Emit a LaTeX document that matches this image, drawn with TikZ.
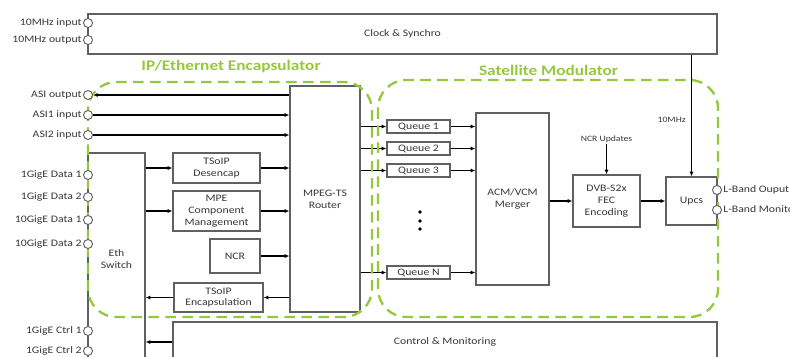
\documentclass[tikz,border=0pt]{standalone}
\usepackage{fontspec}
\setmainfont[FakeStretch=1.18]{Carlito}
\usetikzlibrary{positioning}
\usetikzlibrary{arrows.meta}
\definecolor{boxgray}{RGB}{96,96,96}
\definecolor{txtgray}{RGB}{55,55,55}
\definecolor{zonegreen}{RGB}{150,200,60}
\newcommand{\boxfont}{\fontsize{8.5}{10}\selectfont}
\newcommand{\smallfont}{\fontsize{7}{8}\selectfont}
\newcommand{\zonefont}{\fontsize{12.5}{14}\selectfont\bfseries}
\pgfdeclarelayer{top}
\pgfsetlayers{main,top}

\begin{document}
\begin{tikzpicture}[x=0.03cm, y=-0.03cm,
    blk/.style={draw=boxgray, line width=1.1pt, text=txtgray, font=\boxfont, align=center, inner sep=0pt},
    port/.style={circle, draw=boxgray, fill=white, line width=0.8pt, minimum size=0.27cm, inner sep=0pt},
    portlbl/.style={text=txtgray, font=\boxfont, inner sep=1pt},
    arr/.style={-{Latex[length=4pt,width=3.5pt]}, line width=1.1pt},
    zone/.style={draw=zonegreen, line width=2pt, dash pattern=on 9pt off 5.5pt, rounded corners=0.85cm},
    zonettl/.style={text=zonegreen, font=\zonefont}]
  \useasboundingbox (0,0) rectangle (790,356);

  % main blocks
  \node[blk, minimum width=18.87cm, minimum height=1.2cm] (clock) at (402.5,34) {Clock \& Synchro};
  \node[blk, minimum width=2.1cm, minimum height=6.78cm] (router) at (325,199) {MPEG-TS\\Router};
  \node[blk, minimum width=1.71cm, minimum height=6.36cm] (eth) at (116.5,259) {Eth\\Switch};
  \node[blk, minimum width=2.61cm, minimum height=0.9cm] (desencap) at (216.5,168) {TSoIP\\Desencap};
  \node[blk, minimum width=2.61cm, minimum height=1.2cm] (mpe) at (216.5,211) {MPE\\Component\\Management};
  \node[blk, minimum width=1.5cm, minimum height=1.02cm] (ncr) at (235,256) {NCR};
  \node[blk, minimum width=2.67cm, minimum height=0.87cm] (tsencap) at (218.5,297.5) {TSoIP\\Encapsulation};
  \node[blk, minimum width=16.32cm, minimum height=1.2cm] (cm) at (445,342) {Control \& Monitoring};

  % modulator chain
  \node[blk, minimum width=1.89cm, minimum height=0.39cm] (q1) at (418.5,126.5) {Queue 1};
  \node[blk, minimum width=1.89cm, minimum height=0.39cm] (q2) at (418.5,148.5) {Queue 2};
  \node[blk, minimum width=1.89cm, minimum height=0.39cm] (q3) at (418.5,170.5) {Queue 3};
  \node[blk, minimum width=1.89cm, minimum height=0.39cm] (qn) at (418.5,272.5) {Queue N};
  \node[blk, minimum width=2.19cm, minimum height=5.16cm] (merger) at (512.5,199) {ACM/VCM\\Merger};
  \node[blk, minimum width=2.01cm, minimum height=1.56cm] (fec) at (606.5,201) {DVB-S2x\\FEC\\Encoding};
  \node[blk, minimum width=1.53cm, minimum height=1.44cm] (upcs) at (691.5,201) {Upcs};
  \node[text=txtgray, font=\smallfont, inner sep=1pt, above=0.9cm of fec] (ncrupd) {NCR Updates};
  \node[text=txtgray, font=\smallfont, inner sep=1pt, anchor=east] (tenmhz) at (687,120) {10MHz};
  \foreach \dy in {212,221,229}
    \fill[black] (420,\dy) circle (1.6pt);

  % ports
  \begin{pgfonlayer}{top}
  \node[port, label={[portlbl]left:10MHz input}] (clkin) at (88,23) {};
  \node[port, label={[portlbl]left:10MHz output}] (clkout) at (88,40) {};
  \node[port, label={[portlbl]left:ASI output}] (asiout) at (88,95) {};
  \node[port, label={[portlbl]left:ASI1 input}] (asione) at (88,115) {};
  \node[port, label={[portlbl]left:ASI2 input}] (asitwo) at (88,135) {};
  \node[port, label={[portlbl]left:1GigE Data 1}] (gdone) at (88,175) {};
  \node[port, label={[portlbl]left:1GigE Data 2}] (gdtwo) at (88,197) {};
  \node[port, label={[portlbl]left:10GigE Data 1}] (xgdone) at (88,220) {};
  \node[port, label={[portlbl]left:10GigE Data 2}] (xgdtwo) at (88,244) {};
  \node[port, label={[portlbl]left:1GigE Ctrl 1}] (ctrlone) at (88,331) {};
  \node[port, label={[portlbl]left:1GigE Ctrl 2}] (ctrltwo) at (88,351) {};
  \node[port, label={[portlbl]right:L-Band Ouput}] (lbout) at (717,190) {};
  \node[port, label={[portlbl]right:L-Band Monitoring}] (lbmon) at (717,210) {};
  \end{pgfonlayer}

  % connectors
  \draw[arr] (asiout -| router.west) -- (asiout);
  \draw[arr] (asione) -- (asione -| router.west);
  \draw[arr] (asitwo) -- (asitwo -| router.west);
  \draw[arr] (eth.east |- desencap.west) -- (desencap.west);
  \draw[arr] (desencap.east) -- (desencap.east -| router.west);
  \draw[arr] (eth.east |- mpe.west) -- (mpe.west);
  \draw[arr] (mpe.east) -- (mpe.east -| router.west);
  \draw[arr] (ncr.east) -- (ncr.east -| router.west);
  \draw[arr] (tsencap.east -| router.west) -- (tsencap.east);
  \draw[arr] (tsencap.west) -- (tsencap.west -| eth.east);
  \draw[arr, {Latex[length=4pt,width=3.5pt]}-] (eth.east |- cm.west) -- (cm.west);
  \foreach \q in {q1,q2,q3,qn} {
    \draw[arr] (router.east |- \q.west) -- (\q.west);
    \draw[arr] (\q.east) -- (\q.east -| merger.west);
  }
  \draw[arr] (merger.east |- fec.west) -- (fec.west);
  \draw[arr] (fec.east) -- (upcs.west);
  \draw[arr] (upcs.north |- clock.south) -- (upcs.north);
  \draw[arr] (ncrupd.south) -- (fec.north);

  % dashed zones
  \draw[zone] (88,82) rectangle (372,317);
  \draw[zone] (378,80) rectangle (718,317);
  \node[zonettl] (ipttl) at (231,67) {IP/Ethernet Encapsulator};
  \node[zonettl] (satttl) at (548.5,70) {Satellite Modulator};
\end{tikzpicture}
\end{document}
